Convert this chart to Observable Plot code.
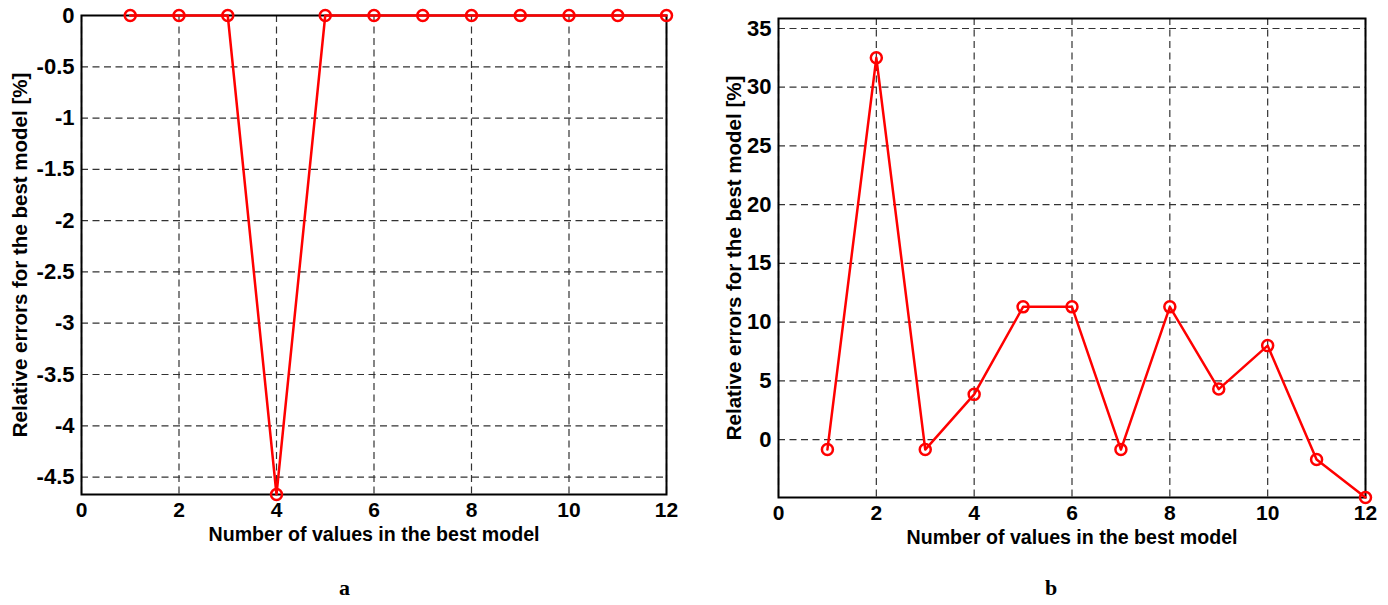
<!DOCTYPE html>
<html>
<head>
<meta charset="utf-8">
<script src="https://cdn.jsdelivr.net/npm/d3@7"></script>
<script src="https://cdn.jsdelivr.net/npm/@observablehq/plot@0.6"></script>
<style>
  html, body { margin: 0; padding: 0; background: #fff; }
  #wrap { position: relative; width: 1388px; height: 605px; overflow: hidden; }
  .panel { position: absolute; top: 0; }
  .tag { position: absolute; font-family: "Liberation Serif", "DejaVu Serif", serif; font-weight: bold; font-size: 22px; color: #000; }
</style>
</head>
<body>
<div id="wrap"></div>
<script>
// Data
const modelSizes = [1, 2, 3, 4, 5, 6, 7, 8, 9, 10, 11, 12];
const errorsA = [0, 0, 0, -4.67, 0, 0, 0, 0, 0, 0, 0, 0];
const errorsB = [-0.85, 32.5, -0.85, 3.85, 11.3, 11.3, -0.85, 11.3, 4.3, 8.0, -1.7, -4.93];
const xTicks = [0, 2, 4, 6, 8, 10, 12];
const yTicksA = [0, -0.5, -1, -1.5, -2, -2.5, -3, -3.5, -4, -4.5];
const yTicksB = [0, 5, 10, 15, 20, 25, 30, 35];
const xLabel = "Number of values in the best model";
const yLabel = "Relative errors for the best model [%]";
const panelTags = ["a", "b"];

const wrap = document.getElementById("wrap");

function panel(values, yDomain, yTicks, m) {
  const data = modelSizes.map((x, i) => ({x, y: values[i]}));
  return Plot.plot({
    width: 694,
    height: 560,
    marginLeft: m.left,
    marginRight: m.right,
    marginTop: m.top,
    marginBottom: m.bottom,
    style: {fontFamily: "'Liberation Sans', Arial, sans-serif", fontWeight: "bold", fontSize: "20px", color: "#000", background: "#fff", overflow: "visible"},
    x: {domain: [0, 12]},
    y: {domain: yDomain},
    marks: [
      Plot.gridX(xTicks, {stroke: "#333", strokeOpacity: 1, strokeWidth: 1.2, strokeDasharray: "7,4.5"}),
      Plot.gridY(yTicks, {stroke: "#333", strokeOpacity: 1, strokeWidth: 1.2, strokeDasharray: "7,4.5"}),
      Plot.axisX(xTicks, {tickSize: 0, tickPadding: 8, fontSize: 21, label: null}),
      Plot.axisX([], {tickSize: 0, fontSize: 19.6, label: xLabel, labelAnchor: "center", labelOffset: m.xlab, labelArrow: "none"}),
      Plot.axisY(yTicks, {tickSize: 0, tickPadding: 7, fontSize: 22, tickFormat: d => String(d), label: null}),
      Plot.axisY([], {tickSize: 0, fontSize: 20.5, label: yLabel, labelAnchor: "center", labelOffset: m.ylab, labelArrow: "none"}),
      Plot.frame({stroke: "#000", strokeWidth: 2}),
      Plot.line(data, {x: "x", y: "y", stroke: "#ff0000", strokeWidth: 2.5}),
      Plot.dot(data, {x: "x", y: "y", r: 5.5, stroke: "#ff0000", strokeWidth: 2.5, fill: "none"})
    ]
  });
}

const left = panel(errorsA, [-4.67, 0], yTicksA, {left: 81, right: 28, top: 15, bottom: 66, xlab: 46, ylab: 69});
left.classList.add("panel");
left.style.left = "0px";
wrap.appendChild(left);

const right = panel(errorsB, [-4.93, 35.85], yTicksB, {left: 84, right: 23, top: 18, bottom: 63, xlab: 46, ylab: 52});
right.classList.add("panel");
right.style.left = "694px";
wrap.appendChild(right);

[[panelTags[0], 339], [panelTags[1], 1045]].forEach(([t, x]) => {
  const d = document.createElement("div");
  d.className = "tag";
  d.textContent = t;
  d.style.left = x + "px";
  d.style.top = "575px";
  wrap.appendChild(d);
});
</script>
</body>
</html>
